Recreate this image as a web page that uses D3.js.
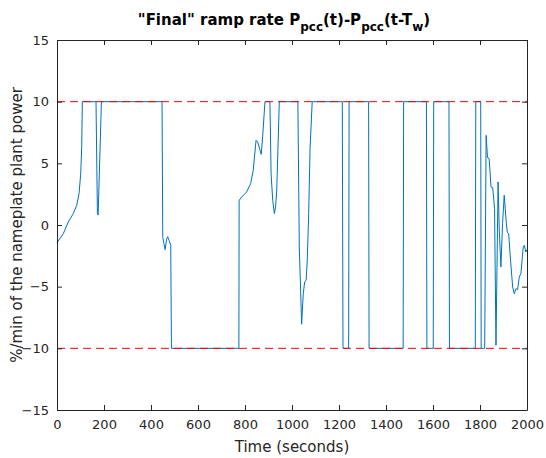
<!DOCTYPE html>
<html>
<head>
<meta charset="utf-8">
<script src="https://cdn.jsdelivr.net/npm/d3@7"></script>
<style>
  body { margin: 0; background: #fff; }
  text { font-family: "DejaVu Sans", sans-serif; fill: #262626; }
</style>
</head>
<body>
<svg width="546" height="458"></svg>
<script>
// sampled signal (seconds, %/min)
var time = [0, 27, 48, 69, 84, 94, 101, 105, 108, 166, 172, 175, 189,
  447, 450, 455, 460, 466, 471, 477, 484, 487,
  774, 775, 786, 807, 824, 835, 847, 854, 864, 869, 875, 885,
  906, 911, 918, 925, 930, 935, 946,
  1025, 1031, 1037, 1041, 1048, 1054, 1060, 1065, 1071, 1077, 1086,
  1214, 1217, 1241, 1243, 1326, 1328, 1473, 1475, 1572, 1574, 1601, 1603,
  1668, 1670, 1780, 1782, 1803, 1805, 1816, 1820, 1826, 1832, 1839, 1847,
  1854, 1862, 1868, 1877, 1882, 1889, 1896, 1903, 1911, 1916, 1922, 1930,
  1939, 1946, 1953, 1960, 1967, 1974, 1984, 1989, 1995, 2000];
var rampRate = [-1.43, -0.7, 0.25, 0.92, 1.6, 2.57, 4.2, 6.3, 10, 10, 0.92, 0.8, 10,
  10, -1.0, -1.5, -2.0, -1.2, -0.95, -1.25, -1.65, -10,
  -10, 2.0, 2.27, 2.68, 3.35, 4.43, 6.87, 6.73, 6.06, 5.73, 7.14, 10,
  10, 4.17, 2.0, 0.92, 1.46, 2.8, 10,
  10, -1.78, -5.5, -8.05, -5.57, -4.6, -4.49, -2.86, 0.92, 6.3, 10,
  10, -10, -10, 10, 10, -10, -10, 10, 10, -10, -10, 10,
  10, -10, -10, 10, 10, -10, -10, -10, 7.27, 5.46, 5.38, 3.08,
  3.03, 1.33, -9.75, 3.49, -0.43, -3.4, 0.11, 2.41, 0.38, -0.57, -0.7, -2.86,
  -5.03, -5.57, -5.16, -5.24, -4.22, -3.94, -1.78, -1.65, -2.19, -2.0];
var limits = [10, -10];
var xTicks = [0, 200, 400, 600, 800, 1000, 1200, 1400, 1600, 1800, 2000];
var yTicks = [-15, -10, -5, 0, 5, 10, 15];

var margins = { left: 57, right: 19, top: 40, bottom: 48 };
var width = 546 - margins.left - margins.right;
var height = 458 - margins.top - margins.bottom;

var xScale = d3.scaleLinear().domain([0, 2000]).range([0, width]);
var yScale = d3.scaleLinear().domain([-15, 15]).range([height, 0]);

var svg = d3.select("svg");
var plot = svg.append("g")
  .attr("transform", "translate(" + margins.left + "," + margins.top + ")");

var data = time.map(function(t, i) { return [t, rampRate[i]]; });
var line = d3.line()
  .x(function(d) { return xScale(d[0]); })
  .y(function(d) { return yScale(d[1]); });

plot.append("path")
  .datum(data)
  .attr("d", line)
  .attr("fill", "none")
  .attr("stroke", "#0072bd")
  .attr("stroke-width", 1);

plot.selectAll(".limit")
  .data(limits)
  .enter()
  .append("line")
  .attr("class", "limit")
  .attr("x1", xScale(0))
  .attr("x2", xScale(2000))
  .attr("y1", function(d) { return yScale(d); })
  .attr("y2", function(d) { return yScale(d); })
  .attr("stroke", "#ff0000")
  .attr("stroke-width", 1)
  .attr("stroke-dasharray", "8,5");

// axes, ticks pointing inward, box on
var axisStyle = function(g) {
  g.select(".domain").attr("stroke", "#262626");
  g.selectAll(".tick line").attr("stroke", "#262626");
  g.selectAll("text").attr("font-size", 13).attr("fill", "#262626")
    .attr("font-family", "DejaVu Sans, sans-serif");
};

plot.append("g")
  .attr("transform", "translate(0," + height + ")")
  .call(d3.axisBottom(xScale).tickValues(xTicks).tickFormat(d3.format("d")).tickSizeInner(-5).tickSizeOuter(0).tickPadding(10))
  .call(axisStyle);
plot.append("g")
  .call(d3.axisTop(xScale).tickValues(xTicks).tickSizeInner(-5).tickSizeOuter(0).tickFormat(""))
  .call(axisStyle);
plot.append("g")
  .call(d3.axisLeft(yScale).tickValues(yTicks).tickSizeInner(-5).tickSizeOuter(0).tickPadding(8))
  .call(axisStyle);
plot.append("g")
  .attr("transform", "translate(" + width + ",0)")
  .call(d3.axisRight(yScale).tickValues(yTicks).tickSizeInner(-5).tickSizeOuter(0).tickFormat(""))
  .call(axisStyle);

svg.append("text")
  .attr("x", margins.left + width / 2)
  .attr("y", 452)
  .attr("text-anchor", "middle")
  .attr("font-size", 15)
  .text("Time (seconds)");

svg.append("text")
  .attr("transform", "translate(22," + (margins.top + height / 2) + ") rotate(-90)")
  .attr("text-anchor", "middle")
  .attr("font-size", 15)
  .text("%/min of the nameplate plant power");

var title = svg.append("text")
  .attr("x", 284)
  .attr("y", 25)
  .attr("text-anchor", "middle")
  .attr("font-size", 15)
  .attr("font-weight", "bold")
  .attr("fill", "#000");
var parts = [["\"Final\" ramp rate P", 0], ["pcc", 1], ["(t)-P", 0], ["pcc", 1], ["(t-T", 0], ["w", 1], [")", 0]];
var prev = 0;
parts.forEach(function(p) {
  title.append("tspan")
    .attr("dy", (p[1] - prev) * 6)
    .attr("font-size", p[1] ? 12 : 15)
    .style("fill", "#000")
    .text(p[0]);
  prev = p[1];
});
</script>
</body>
</html>
